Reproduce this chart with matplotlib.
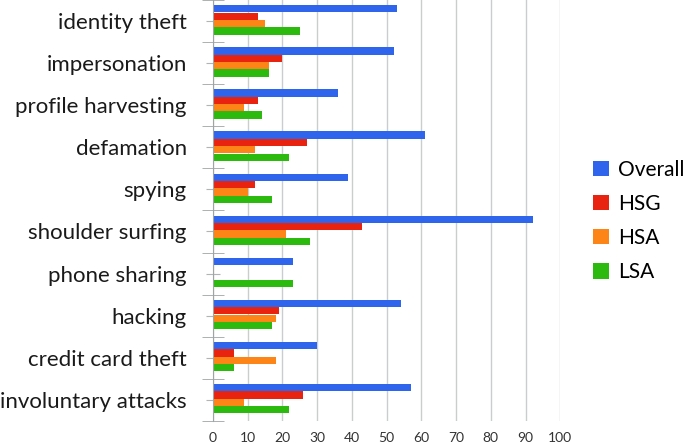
import numpy as np
import matplotlib.pyplot as plt

categories = ["identity theft", "impersonation", "profile harvesting", "defamation",
              "spying", "shoulder surfing", "phone sharing", "hacking",
              "credit card theft", "involuntary attacks"]
overall = [53, 52, 36, 61, 39, 92, 23, 54, 30, 57]
hsg = [13, 20, 13, 27, 12, 43, 0, 19, 6, 26]
hsa = [15, 16, 9, 12, 10, 21, 0, 18, 18, 9]
lsa = [25, 16, 14, 22, 17, 28, 23, 17, 6, 22]
series_names = ["Overall", "HSG", "HSA", "LSA"]
colors = ["#2f64ec", "#e8230f", "#fd8417", "#2cba0f"]

plt.rcParams['font.family'] = ['Lato', 'DejaVu Sans']

fig = plt.figure(figsize=(6.85, 4.43), dpi=100)
ax = fig.add_axes([0.311, 0.05, 0.507, 0.95])

y = np.arange(len(categories))
h = 0.172
offsets = [-0.29, -0.115, 0.06, 0.235]
for vals, off, c, name in zip([overall, hsg, hsa, lsa], offsets, colors, series_names):
    ax.barh(y + off, vals, height=h, color=c, label=name, zorder=3)

ax.set_xlim(0, 100)
ax.set_ylim(len(categories) - 0.5, -0.5)
ax.set_xticks(np.arange(0, 101, 10))
ax.xaxis.grid(True, color="#c9cdcd", linewidth=1.0, zorder=0)
ax.set_yticks(y)
ax.set_yticklabels(categories, fontsize=16, color="#1a1a1a")
ax.set_yticks(np.arange(-0.5, len(categories) + 0.5, 1), minor=True)
ax.tick_params(axis="y", which="major", direction="inout", length=10, color="#b0b4b4", pad=14)
ax.tick_params(axis="y", which="minor", direction="inout", length=16, color="#a0a4a4")
ax.tick_params(axis="x", length=0, labelsize=10, labelcolor="#333333", pad=8)
for s in ["top", "right", "bottom"]:
    ax.spines[s].set_visible(False)
ax.spines["left"].set_color("#a0a4a4")
ax.spines["left"].set_zorder(4)

ax.legend(loc="center left", bbox_to_anchor=(1.04, 0.475), frameon=False,
          fontsize=15, handlelength=0.75, handleheight=0.75, labelspacing=0.68,
          handletextpad=0.45)

fig.savefig("out.png", dpi=100)
